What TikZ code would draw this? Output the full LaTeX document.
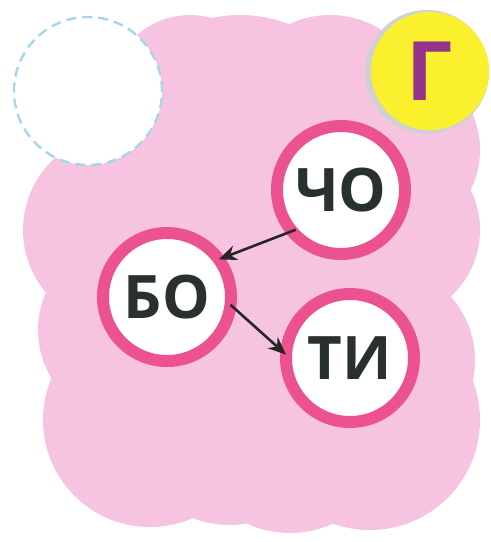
\documentclass[tikz,border=0pt]{standalone}
\usepackage{fontspec}
\setsansfont{Open Sans}
\usetikzlibrary{arrows.meta,positioning}
\definecolor{cloudpink}{RGB}{246,196,224}
\definecolor{ringpink}{RGB}{236,82,144}
\definecolor{inkgray}{RGB}{40,48,48}
\definecolor{badgeyellow}{RGB}{250,240,45}
\definecolor{badgepurple}{RGB}{150,52,140}
\definecolor{dashblue}{RGB}{165,215,235}

\begin{document}
\begin{tikzpicture}[
    x=0.5pt, y=-0.5pt,
    syll/.style={circle, draw=ringpink, line width=6pt, fill=white, minimum size=64pt,
                 inner sep=0pt, outer sep=0pt, text=inkgray,
                 font=\sffamily\bfseries\fontsize{30}{36}\selectfont},
    badge/.style={circle, fill=badgeyellow, minimum size=59pt, inner sep=0pt, text=badgepurple,
                  font=\sffamily\bfseries\fontsize{41}{48}\selectfont},
    blank/.style={circle, draw=dashblue, dash pattern=on 5pt off 3pt, line width=1.2pt,
                  fill=white, minimum size=74pt},
    arr/.style={-{Stealth[length=9pt, width=7.5pt]}, line width=1.3pt, black!85}
  ]

  %% Page
  \fill[white] (0,0) rectangle (491,542);
  \useasboundingbox (0,0) rectangle (491,542);

  %% Cloud (union of bumps)
  \foreach \cx/\cy/\r in {250/300/100, 240/150/67.5, 190/95/40, 330/110/47.5,
                          390/150/45, 390/230/45, 380/360/47.5, 120/230/48.5,
                          130/330/46, 150/420/53.5, 230/420/52.5, 290/430/51.5,
                          370/420/55}{
    \fill[cloudpink] (\cx,\cy) circle[radius=\r pt];
  }

  %% Empty slot and letter badge
  \node[blank] (slot) at (88,91) {};
  \fill[black!18] (427,72) circle[radius=31pt];
  \node[badge] (g) at (430,71) {Г};

  %% Syllables
  \node[syll] (cho) at (341,190) {ЧО};
  \node[syll] (bo)  at (167,297) {БО};
  \node[syll] (ti)  at (350,358) {ТИ};

  %% Order
  \draw[arr, shorten <=-2pt] (cho.220) -- (bo.36);
  \draw[arr] (bo.-7) -- (ti.177);

\end{tikzpicture}
\end{document}
